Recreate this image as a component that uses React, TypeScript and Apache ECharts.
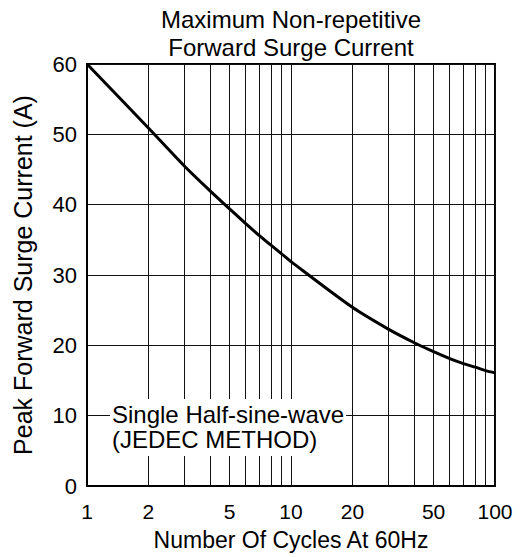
import React, { useEffect, useRef } from "react";
import * as echarts from "echarts";

const cycles = [1, 2, 3, 4, 5, 6, 7, 8, 9, 10, 20, 30, 40, 50, 60, 70, 80, 90, 100];
const current = [60, 50.9, 45.5, 42.0, 39.4, 37.3, 35.6, 34.2, 33.0, 31.9, 25.4, 22.3, 20.4, 19.1, 18.1, 17.4, 16.9, 16.4, 16.1];
const xGridValues = [1, 2, 3, 4, 5, 6, 7, 8, 9, 10, 20, 30, 40, 50, 60, 70, 80, 90, 100];
const xLabelValues = [1, 2, 5, 10, 20, 50, 100];
const yMin = 0;
const yMax = 60;
const yStep = 10;
const titleLines = ["Maximum Non-repetitive", "Forward Surge Current"];
const xName = "Number Of Cycles At 60Hz";
const yName = "Peak Forward Surge Current (A)";
const noteLines = ["Single Half-sine-wave", "(JEDEC METHOD)"];

const FONT = "'Liberation Sans', Arial, Helvetica, sans-serif";

export default function App() {
  const ref = useRef<HTMLDivElement>(null);
  useEffect(() => {
    if (!ref.current) return;
    const chart = echarts.init(ref.current, undefined, { renderer: "svg" });
    chart.setOption({
      animation: false,
      backgroundColor: "#fff",
      textStyle: { fontFamily: FONT, color: "#000" },
      grid: {
        left: 87,
        right: 25,
        top: 64,
        bottom: 71,
        show: true,
        borderColor: "#000",
        borderWidth: 2,
        backgroundColor: "transparent",
      },
      graphic: [
        {
          type: "text",
          x: 291,
          y: 5,
          z: 10,
          style: {
            text: titleLines.join("\n"),
            textAlign: "center",
            fontFamily: FONT,
            fontSize: 24,
            lineHeight: 28,
            fill: "#000",
          },
        },
        {
          type: "text",
          x: 110,
          y: 399,
          z: 10,
          style: {
            text: noteLines.join("\n"),
            fontFamily: FONT,
            fontSize: 24,
            lineHeight: 25,
            fill: "#000",
            backgroundColor: "#fff",
            padding: [3, 2, 4, 2],
          },
        },
      ],
      xAxis: {
        type: "log",
        logBase: 10,
        min: 1,
        max: 100,
        name: xName,
        nameLocation: "middle",
        nameGap: 42,
        nameTextStyle: { fontFamily: FONT, fontSize: 23, color: "#000" },
        axisLine: { show: true, lineStyle: { color: "#000", width: 2 } },
        axisTick: { show: false, customValues: xGridValues },
        axisLabel: {
          customValues: xLabelValues,
          fontFamily: FONT,
          fontSize: 21,
          color: "#000",
          margin: 15,
          formatter: (v: number) => String(Math.round(v)),
        },
        splitLine: { show: true, lineStyle: { color: "#111", width: 1 } },
        minorTick: { show: false },
      },
      yAxis: {
        type: "value",
        min: yMin,
        max: yMax,
        interval: yStep,
        name: yName,
        nameLocation: "middle",
        nameGap: 52,
        nameTextStyle: { fontFamily: FONT, fontSize: 25, color: "#000" },
        axisLine: { show: true, lineStyle: { color: "#000", width: 2 } },
        axisTick: { show: false },
        axisLabel: { fontFamily: FONT, fontSize: 22, color: "#000", margin: 10 },
        splitLine: { show: true, lineStyle: { color: "#111", width: 1 } },
      },
      series: [
        {
          type: "line",
          data: cycles.map((c, i) => [c, current[i]]),
          showSymbol: false,
          smooth: 0.3,
          lineStyle: { color: "#000", width: 3, join: "round" },
          z: 5,
        },
      ],
    });
    return () => chart.dispose();
  }, []);
  return (
    <div
      ref={ref}
      style={{ position: "fixed", left: 0, top: 0, width: 520, height: 557 }}
    />
  );
}
